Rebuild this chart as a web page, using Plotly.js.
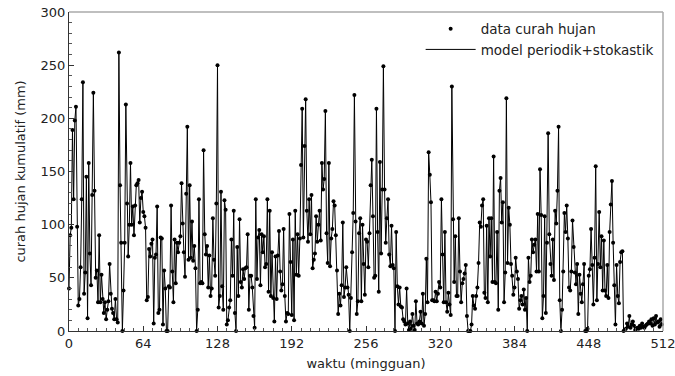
<!DOCTYPE html>
<html>
<head>
<meta charset="utf-8">
<script src="https://cdn.plot.ly/plotly-3.0.1.min.js"></script>
<style>html,body{margin:0;padding:0;background:#fff}#chart{width:675px;height:376px}</style>
</head>
<body>
<div id="chart"></div>
<script>
// weekly cumulative rainfall (mm), weeks 0..511
var rain = [
  40, 90, 97, 189, 124, 198, 211, 98, 24, 30,
  60, 124, 234, 35, 55, 145, 12, 158, 73, 43,
  128, 224, 132, 50, 57, 27, 90, 27, 53, 30,
  17, 27, 11, 20, 28, 63, 35, 21, 17, 11,
  30, 11, 8, 262, 137, 83, 0, 38, 83, 213,
  120, 70, 100, 158, 100, 117, 90, 118, 137, 139,
  142, 102, 125, 131, 112, 108, 97, 29, 32, 77,
  70, 82, 86, 7, 69, 72, 117, 17, 20, 88,
  87, 6, 57, 40, 0, 0, 42, 41, 118, 56,
  27, 86, 45, 83, 74, 83, 89, 139, 101, 74,
  51, 129, 192, 67, 137, 69, 103, 66, 80, 59,
  0, 20, 124, 45, 46, 45, 170, 91, 72, 80,
  41, 71, 33, 40, 106, 67, 52, 120, 250, 22,
  33, 131, 42, 20, 123, 114, 6, 10, 22, 29,
  86, 52, 113, 17, 0, 79, 33, 105, 46, 41,
  58, 49, 59, 60, 91, 20, 52, 52, 41, 14,
  3, 124, 49, 88, 95, 43, 91, 74, 89, 60,
  63, 124, 37, 113, 33, 74, 31, 9, 70, 30,
  71, 94, 56, 38, 44, 96, 33, 9, 17, 16,
  110, 65, 15, 86, 10, 113, 53, 91, 52, 87,
  156, 209, 88, 174, 218, 113, 84, 124, 91, 128,
  59, 67, 73, 108, 84, 100, 113, 85, 158, 133,
  143, 207, 92, 64, 158, 61, 87, 96, 122, 118,
  90, 57, 16, 35, 24, 43, 102, 32, 41, 60,
  41, 34, 0, 31, 74, 111, 222, 103, 16, 28,
  92, 106, 28, 100, 63, 34, 86, 84, 60, 92,
  137, 161, 108, 50, 52, 209, 93, 37, 159, 73,
  133, 249, 133, 83, 106, 124, 72, 61, 99, 62,
  59, 0, 93, 42, 25, 41, 23, 22, 11, 9,
  6, 40, 7, 1, 9, 2, 16, 5, 1, 28,
  7, 6, 9, 18, 7, 35, 5, 16, 68, 27,
  168, 147, 121, 29, 29, 28, 37, 28, 35, 46,
  41, 124, 72, 27, 93, 27, 18, 36, 25, 15,
  230, 105, 46, 89, 33, 33, 106, 56, 27, 45,
  49, 54, 62, 14, 0, 0, 0, 6, 33, 24,
  21, 33, 41, 64, 102, 98, 118, 124, 36, 31,
  99, 27, 106, 70, 106, 46, 164, 46, 45, 93,
  20, 132, 144, 102, 121, 27, 55, 219, 64, 116,
  100, 63, 52, 34, 41, 69, 56, 49, 21, 29,
  33, 25, 39, 20, 31, 0, 69, 46, 52, 86,
  74, 81, 86, 56, 110, 56, 152, 109, 12, 33,
  108, 17, 83, 186, 91, 63, 52, 86, 48, 113,
  101, 132, 192, 29, 0, 20, 56, 111, 93, 118,
  87, 41, 38, 56, 104, 79, 55, 44, 63, 16,
  53, 35, 27, 44, 63, 0, 0, 2, 52, 58,
  96, 62, 25, 69, 155, 29, 63, 112, 60, 89,
  38, 85, 38, 33, 62, 31, 93, 119, 141, 83,
  43, 6, 62, 33, 26, 65, 74, 75, 0, 1,
  2, 7, 4, 14, 3, 6, 9, 5, 1, 2,
  3, 2, 5, 3, 7, 4, 3, 5, 6, 7,
  9, 7, 11, 5, 12, 6, 14, 8, 9, 4,
  11, 6
];
var weeks = rain.map(function (_, i) { return i; });
var xTicks = [0, 64, 128, 192, 256, 320, 384, 448, 512];
var yTicks = [0, 50, 100, 150, 200, 250, 300];
var dataName = "data curah hujan";
var modelName = "model periodik+stokastik";

var font = {family: "DejaVu Sans, Verdana, sans-serif", size: 13, color: "#222"};
var legendFont = {family: "DejaVu Sans, Verdana, sans-serif", size: 13.5, color: "#222"};

var traces = [
  {x: weeks, y: rain, type: "scatter", mode: "markers", name: dataName,
   marker: {color: "#000", size: 4}, cliponaxis: false},
  {x: weeks, y: rain, type: "scatter", mode: "lines", name: modelName,
   line: {color: "#000", width: 1}}
];

var layout = {
  width: 675, height: 376,
  margin: {l: 69, r: 12, t: 12, b: 45},
  paper_bgcolor: "#fff", plot_bgcolor: "#fff",
  font: font,
  showlegend: true,
  legend: {x: 0.592, y: 0.995, xanchor: "left", yanchor: "top", itemwidth: 50,
           bgcolor: "rgba(0,0,0,0)", font: legendFont, tracegroupgap: 0},
  xaxis: {
    range: [0, 512], tickmode: "array", tickvals: xTicks, ticktext: xTicks.map(String),
    ticks: "inside", ticklen: 5, tickcolor: "#333", showgrid: false, zeroline: false,
    showline: true, linecolor: "#333", linewidth: 1, mirror: false,
    ticklabeloverflow: "allow",
    minor: {dtick: 8, ticks: "inside", ticklen: 3, tickcolor: "#555", showgrid: false},
    title: {text: "waktu (mingguan)", font: font, standoff: 9},
    tickfont: font
  },
  yaxis: {
    range: [0, 300], tickmode: "array", tickvals: yTicks, ticktext: yTicks.map(String),
    ticks: "inside", ticklen: 5, tickcolor: "#333", showgrid: false, zeroline: false,
    showline: true, linecolor: "#333", linewidth: 1, mirror: false,
    ticklabeloverflow: "allow",
    minor: {dtick: 10, ticks: "inside", ticklen: 3, tickcolor: "#555", showgrid: false},
    title: {text: "curah hujan kumulatif (mm)", font: font, standoff: 12},
    tickfont: font
  },
  shapes: [
    {type: "line", xref: "paper", yref: "paper", x0: 0, x1: 1, y0: 1, y1: 1,
     line: {color: "#aaa", width: 1.5}},
    {type: "line", xref: "paper", yref: "paper", x0: 1, x1: 1, y0: 0, y1: 1,
     line: {color: "#aaa", width: 1.5}}
  ]
};

Plotly.newPlot("chart", traces, layout, {displayModeBar: false, staticPlot: true});
</script>
</body>
</html>
